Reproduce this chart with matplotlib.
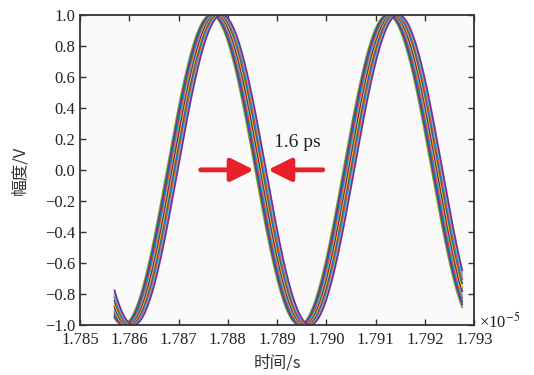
import numpy as np
import matplotlib
matplotlib.use("Agg")
import matplotlib.pyplot as plt

# ---- data ----
x_ticks = [1.785e-5, 1.786e-5, 1.787e-5, 1.788e-5, 1.789e-5, 1.790e-5, 1.791e-5, 1.792e-5, 1.793e-5]
x_tick_labels = ["1.785", "1.786", "1.787", "1.788", "1.789", "1.790", "1.791", "1.792", "1.793"]
y_ticks = [1.0, 0.8, 0.6, 0.4, 0.2, 0.0, -0.2, -0.4, -0.6, -0.8, -1.0]
y_tick_labels = ["1.0", "0.8", "0.6", "0.4", "0.2", "0.0", "\u22120.2", "\u22120.4", "\u22120.6", "\u22120.8", "\u22121.0"]

t_start = 1.78570e-5      # first sample of the traces
t_end = 1.79276e-5        # last sample of the traces
peak_time = 1.78777e-5    # first maximum
period = 3.583e-8         # signal period
amplitude = 1.0
# time offsets of the overlaid traces (s)
trace_shifts = [-1.1e-9, -0.88e-9, -0.66e-9, -0.44e-9, -0.22e-9, 0.0,
                0.22e-9, 0.44e-9, 0.66e-9, 0.88e-9, 1.1e-9]
trace_colors = ["#77AC30", "#7E2F8E", "#0072BD", "#D95319", "#4DBEEE", "#A2142F",
                "#EDB120", "#0072BD", "#D95319", "#4DBEEE", "#7E2F8E"]

annotation_text = "1.6 ps"

plt.rcParams['font.family'] = ['Liberation Serif', 'Noto Sans CJK SC']
plt.rcParams['mathtext.fontset'] = 'stix'

fig = plt.figure(figsize=(5.34, 3.75), dpi=100)
ax = fig.add_axes([80/534, 1-325/375, (474-80)/534, (325-14.7)/375])
ax.set_facecolor("#fafafa")

t = np.linspace(t_start, t_end, 2000)
for s, c in zip(trace_shifts, trace_colors):
    ax.plot(t, amplitude*np.cos(2*np.pi*(t - peak_time - s)/period), color=c, lw=1.3)

ax.set_xlim(x_ticks[0], x_ticks[-1])
ax.set_ylim(-1.0, 1.0)
ax.set_xticks(x_ticks)
ax.set_xticklabels(x_tick_labels)
ax.set_yticks(y_ticks)
ax.set_yticklabels(y_tick_labels)
ax.tick_params(direction='in', top=True, right=True, labelsize=12, length=4, width=1, colors="#333333", labelcolor="#222222")
ax.tick_params(axis='x', pad=5)
for sp in ax.spines.values():
    sp.set_color("#333333")
    sp.set_linewidth(1.3)

ax.text(1.012, 0.012, "\u00d710$^{-5}$", transform=ax.transAxes, fontsize=12, ha='left', va='center', color="#222222")

ax.set_xlabel("时间/s", fontsize=12, family=['Noto Sans CJK SC'], color="#333333", labelpad=5)
ax.set_ylabel("幅度/V", fontsize=12, family=['Noto Sans CJK SC'], color="#333333", labelpad=12)

red = "#E8202A"
ax.annotate("", xy=(1.788533e-5, 0.0), xytext=(1.787451e-5, 0.0),
            arrowprops=dict(arrowstyle="-|>,head_length=1.4,head_width=0.7", color=red, lw=3.5, shrinkA=0, shrinkB=0))
ax.annotate("", xy=(1.788817e-5, 0.0), xytext=(1.789928e-5, 0.0),
            arrowprops=dict(arrowstyle="-|>,head_length=1.4,head_width=0.7", color=red, lw=3.5, shrinkA=0, shrinkB=0))
ax.text(1.789406e-5, 0.175, annotation_text, fontsize=14, ha='center', va='center', color="#222222")

fig.savefig("out.png", dpi=100)
